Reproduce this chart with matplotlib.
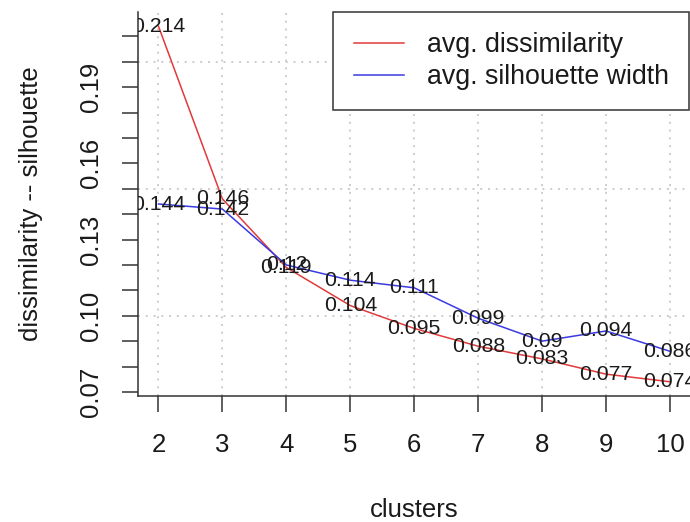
import matplotlib
matplotlib.use('Agg')
import matplotlib.pyplot as plt

plt.rcParams['font.family'] = ['Liberation Sans', 'DejaVu Sans']

# ---- data ----
clusters = [2, 3, 4, 5, 6, 7, 8, 9, 10]
avg_dissimilarity = [0.214, 0.146, 0.119, 0.104, 0.095, 0.088, 0.083, 0.077, 0.074]
avg_silhouette = [0.144, 0.142, 0.12, 0.114, 0.111, 0.099, 0.09, 0.094, 0.086]
series_names = ['avg. dissimilarity', 'avg. silhouette width']
y_ticks = [0.07, 0.08, 0.09, 0.10, 0.11, 0.12, 0.13, 0.14, 0.15, 0.16, 0.17, 0.18, 0.19, 0.20, 0.21]
y_tick_labels = ['0.07', '', '', '0.10', '', '', '0.13', '', '', '0.16', '', '', '0.19', '', '']
x_tick_labels = ['2', '3', '4', '5', '6', '7', '8', '9', '10']
y_grid = [0.10, 0.15, 0.20]
x_label = 'clusters'
y_label = 'dissimilarity -- silhouette'

# ---- style ----
FS = 18.5
LEG_FS = 19.3
LBL_FS = 15.3
AX_COL = '#333333'
TXT_COL = '#1a1a1a'
RED = '#e23a3a'
BLUE = '#3a3ae2'

fig = plt.figure(figsize=(6.9, 5.22), dpi=100)
W, H = 690, 522
ax = fig.add_axes([138 / W, (H - 396) / H, 552.5 / W, 384 / H])

ax.set_xlim(1.68, 10.32)
ax.set_ylim(0.0684, 0.2196)

# grid
for gx in clusters:
    ax.axvline(gx, color='#cccccc', lw=1.4, linestyle=(0, (1, 3)), zorder=0)
for gy in y_grid:
    ax.axhline(gy, color='#cccccc', lw=1.4, linestyle=(0, (1, 3)), zorder=0)

# lines
ax.plot(clusters, avg_dissimilarity, color=RED, lw=1.1, label=series_names[0], zorder=2)
ax.plot(clusters, avg_silhouette, color=BLUE, lw=1.1, label=series_names[1], zorder=2)

# value labels (clipped to plot region as in R)
for xv, yv in zip(clusters, avg_dissimilarity):
    ax.text(xv, yv, '%g' % yv, ha='center', va='center', fontsize=LBL_FS,
            color=TXT_COL, clip_on=True, zorder=3)
for xv, yv in zip(clusters, avg_silhouette):
    ax.text(xv, yv, '%g' % yv, ha='center', va='center', fontsize=LBL_FS,
            color=TXT_COL, clip_on=True, zorder=3)

# axes
ax.set_xticks(clusters)
ax.set_xticklabels(x_tick_labels)
ax.set_yticks(y_ticks)
ax.set_yticklabels(y_tick_labels, rotation=90, va='center')
ax.tick_params(axis='both', direction='out', length=11.5, width=1.1, color=AX_COL,
               labelsize=FS, labelcolor=TXT_COL, pad=13.5)
ax.tick_params(axis='x', pad=15)
for side in ['top', 'right']:
    ax.spines[side].set_visible(False)
for side in ['left', 'bottom']:
    ax.spines[side].set_color(AX_COL)
    ax.spines[side].set_linewidth(1.1)

ax.set_xlabel(x_label, fontsize=FS, color=TXT_COL, labelpad=30)
ax.set_ylabel(y_label, fontsize=FS, color=TXT_COL, labelpad=26)

leg = ax.legend(loc='upper right', bbox_to_anchor=(0.997, 1.0), borderaxespad=0,
                fontsize=LEG_FS, handlelength=1.87, handletextpad=0.86, borderpad=0.75,
                labelspacing=0.22, fancybox=False, framealpha=1, edgecolor=AX_COL)
leg.get_frame().set_linewidth(1.1)
for t in leg.get_texts():
    t.set_color(TXT_COL)

fig.savefig('out.png', dpi=100)
